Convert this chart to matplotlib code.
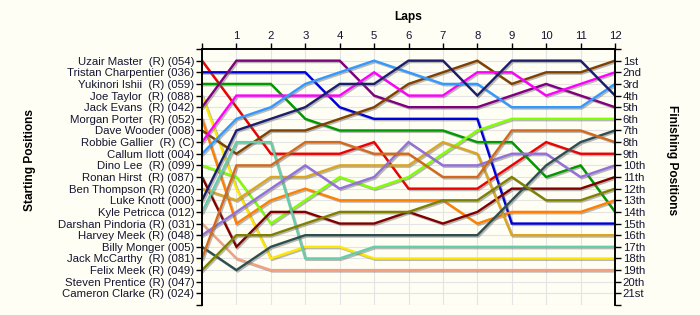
import matplotlib
matplotlib.use("Agg")
import matplotlib.pyplot as plt
import matplotlib.patheffects as pe

plt.rcParams['font.family'] = ['Liberation Sans', 'DejaVu Sans']

laps = list(range(0, 13))

drivers = ["Uzair Master  (R) (054)", "Tristan Charpentier (036)", "Yukinori Ishii  (R) (059)",
           "Joe Taylor  (R) (088)", "Jack Evans  (R) (042)", "Morgan Porter  (R) (052)",
           "Dave Wooder (008)", "Robbie Gallier  (R) (C)", "Callum Ilott (004)",
           "Dino Lee  (R) (099)", "Ronan Hirst  (R) (087)", "Ben Thompson (R) (020)",
           "Luke Knott (000)", "Kyle Petricca (012)", "Darshan Pindoria (R) (031)",
           "Harvey Meek (R) (048)", "Billy Monger (005)", "Jack McCarthy  (R) (081)",
           "Felix Meek (R) (049)", "Steven Prentice (R) (047)", "Cameron Clarke (R) (024)"]

finish_labels = ["1st", "2nd", "3rd", "4th", "5th", "6th", "7th", "8th", "9th", "10th",
                 "11th", "12th", "13th", "14th", "15th", "16th", "17th", "18th", "19th",
                 "20th", "21st"]

# position of each driver at the end of each lap (lap 0 = grid)
uzair    = [1, 5, 9, 9, 9, 8, 12, 12, 12, 10, 8, 9, 9]
tristan  = [2, 2, 2, 2, 5, 6, 6, 6, 6, 15, 15, 15, 15]
yukinori = [3, 3, 3, 6, 7, 7, 7, 7, 8, 8, 11, 10, 14]
joe      = [4, 12, 18, 17, 17, 18, 18, 18, 18, 18, 18, 18, 18]
jack_e   = [5, 1, 1, 1, 1, 4, 5, 5, 5, 4, 3, 4, 5]
morgan   = [6, 15, 13, 12, 13, 13, 13, 13, 15, 14, 14, 14, 13]
dave     = [7, 9, 7, 7, 6, 5, 3, 2, 1, 3, 2, 2, 1]
robbie   = [8, 4, 4, 4, 4, 2, 4, 4, 2, 2, 4, 3, 2]
callum   = [9, 6, 5, 3, 2, 1, 2, 3, 3, 5, 5, 5, 3]
dino     = [10, 11, 15, 13, 11, 12, 11, 9, 7, 6, 6, 6, 6]
ronan    = [11, 17, 14, 14, 15, 15, 14, 15, 14, 12, 12, 12, 11]
ben      = [12, 13, 11, 11, 10, 10, 10, 8, 9, 16, 16, 16, 16]
luke     = [13, 7, 6, 5, 3, 3, 1, 1, 4, 1, 1, 1, 4]
kyle     = [14, 8, 8, 18, 18, 17, 17, 17, 17, 17, 17, 17, 17]
darshan  = [15, 18, 19, 19, 19, 19, 19, 19, 19, 19, 19, 19, 19]
harvey   = [16, 14, 12, 10, 12, 11, 8, 10, 10, 9, 9, 11, 10]
billy    = [17, 19, 17, 16, 16, 16, 16, 16, 16, 13, 10, 8, 7]
jack_m   = [18, 10, 10, 8, 8, 9, 9, 11, 11, 7, 7, 7, 8]
felix    = [19, 16, 16, 15, 14, 14, 14, 13, 13, 11, 13, 13, 12]

series = [uzair, tristan, yukinori, joe, jack_e, morgan, dave, robbie, callum, dino,
          ronan, ben, luke, kyle, darshan, harvey, billy, jack_m, felix]
colors = ['#EE0000', '#0000DD', '#009900', '#FFE800', '#800080', '#FF8000', '#804000',
          '#FF00FF', '#3399FF', '#80FF00', '#800000', '#DAA520', '#1E1E6E', '#66CDAA',
          '#F4A080', '#9370DB', '#2F4F4F', '#D2691E', '#808000']

bg = '#FEFEF4'
txt = '#141432'

fig = plt.figure(figsize=(7, 3.15), dpi=100, facecolor=bg)
ax = fig.add_axes([202/700, 1-305/315, 413/700, 256/315])
ax.set_facecolor(bg)

shadow = [pe.SimpleLineShadow(offset=(1, -1), shadow_color='#666666', alpha=0.45), pe.Normal()]
for s, c in zip(series, colors):
    ax.plot(laps, s, color=c, linewidth=1.7, path_effects=shadow, solid_joinstyle='miter')

ax.set_xlim(0, 12)
ax.set_ylim(22, 0)

ax.xaxis.tick_top()
ax.set_xticks(laps)
ax.set_xticklabels([''] + [str(l) for l in laps[1:]])
ax.set_yticks(range(0, 23))
ax.set_yticklabels([''] + drivers + [''])

ax2 = ax.twinx()
ax2.set_ylim(22, 0)
ax2.set_yticks(range(0, 23))
ax2.set_yticklabels([''] + finish_labels + [''])

for a in (ax, ax2):
    a.tick_params(direction='out', length=4, width=1, color='black', labelsize=8.2,
                  labelcolor=txt, pad=1.5)
    a.spines['bottom'].set_visible(False)
    for sp in ('left', 'right', 'top'):
        a.spines[sp].set_linewidth(1.2)

ax.grid(True, color='#E4E4E4', linewidth=0.8)
ax.set_axisbelow(True)

fig.text(408/700, 1-17/315, "Laps", ha='center', va='center', fontsize=8.6,
         fontweight='bold', color='black')
fig.text(30/700, 1-160/315, "Starting Positions", ha='center', va='center', rotation=90,
         fontsize=8.6, fontweight='bold', color='black')
fig.text(672/700, 1-160/315, "Finishing Positions", ha='center', va='center', rotation=270,
         fontsize=8.6, fontweight='bold', color='black')

fig.savefig("out.png", dpi=100, facecolor=bg)
